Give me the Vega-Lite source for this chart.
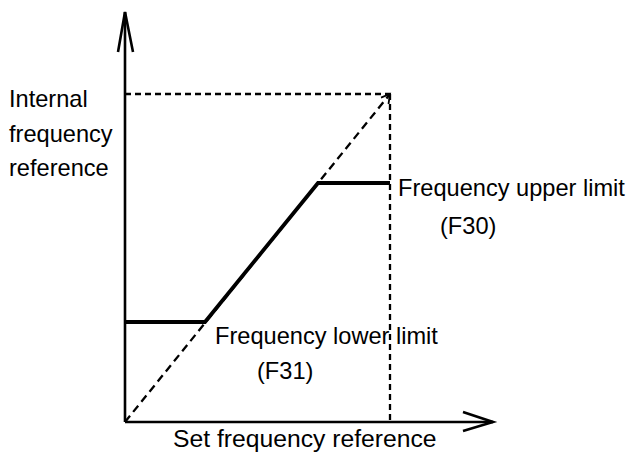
{
  "$schema": "https://vega.github.io/schema/vega-lite/v6.json",
  "width": 629,
  "height": 455,
  "autosize": "none",
  "padding": 0,
  "background": "white",
  "config": {"view": {"stroke": null}},
  "datasets": {
    "solid": [
      {"seg": "yaxis", "o": 1, "x": 0, "y": 0},
      {"seg": "yaxis", "o": 2, "x": 0, "y": 410},
      {"seg": "yarrow", "o": 1, "x": -7, "y": 370},
      {"seg": "yarrow", "o": 2, "x": 0, "y": 410},
      {"seg": "yarrow", "o": 3, "x": 8, "y": 370},
      {"seg": "xaxis", "o": 1, "x": 0, "y": 0},
      {"seg": "xaxis", "o": 2, "x": 368, "y": 0},
      {"seg": "xarrow", "o": 1, "x": 338, "y": 10},
      {"seg": "xarrow", "o": 2, "x": 368, "y": 0},
      {"seg": "xarrow", "o": 3, "x": 338, "y": -9}
    ],
    "thin": [
      {"seg": "darrow", "o": 1, "x": 256, "y": 324.4},
      {"seg": "darrow", "o": 2, "x": 265, "y": 328},
      {"seg": "darrow", "o": 3, "x": 263.5, "y": 318}
    ],
    "dashed": [
      {"seg": "top", "o": 1, "x": 0, "y": 328},
      {"seg": "top", "o": 2, "x": 265, "y": 328},
      {"seg": "vert", "o": 1, "x": 265, "y": 328},
      {"seg": "vert", "o": 2, "x": 265, "y": 0}
    ],
    "diag": [
      {"seg": "diag", "o": 1, "x": 0, "y": 0},
      {"seg": "diag", "o": 2, "x": 265, "y": 328}
    ],
    "thick": [
      {"o": 1, "x": 0, "y": 100},
      {"o": 2, "x": 80, "y": 100},
      {"o": 3, "x": 193, "y": 239},
      {"o": 4, "x": 265, "y": 239}
    ],
    "labels": [
      {"t": "Internal", "x": -116, "y": 315},
      {"t": "frequency", "x": -116, "y": 280},
      {"t": "reference", "x": -116, "y": 246},
      {"t": "Frequency upper limit", "x": 273, "y": 226},
      {"t": "(F30)", "x": 315, "y": 188},
      {"t": "Frequency lower limit", "x": 90, "y": 78},
      {"t": "(F31)", "x": 132, "y": 43}
    ],
    "xlabel": [
      {"t": "Set frequency reference", "x": 48, "y": -25}
    ]
  },
  "encoding": {
    "x": {"field": "x", "type": "quantitative", "scale": {"domain": [-125, 504], "nice": false, "zero": false}, "axis": null},
    "y": {"field": "y", "type": "quantitative", "scale": {"domain": [-33, 422], "nice": false, "zero": false}, "axis": null}
  },
  "layer": [
    {
      "data": {"name": "dashed"},
      "mark": {"type": "line", "color": "black", "strokeWidth": 2.3, "strokeDash": [6, 4], "strokeCap": "butt"},
      "encoding": {"detail": {"field": "seg"}, "order": {"field": "o"}}
    },
    {
      "data": {"name": "diag"},
      "mark": {"type": "line", "color": "black", "strokeWidth": 2.3, "strokeDash": [8, 5], "strokeCap": "butt"},
      "encoding": {"detail": {"field": "seg"}, "order": {"field": "o"}}
    },
    {
      "data": {"name": "thin"},
      "mark": {"type": "line", "color": "black", "strokeWidth": 1.8},
      "encoding": {"detail": {"field": "seg"}, "order": {"field": "o"}}
    },
    {
      "data": {"name": "solid"},
      "mark": {"type": "line", "color": "black", "strokeWidth": 2.6, "strokeJoin": "miter"},
      "encoding": {"detail": {"field": "seg"}, "order": {"field": "o"}}
    },
    {
      "data": {"name": "thick"},
      "mark": {"type": "line", "color": "black", "strokeWidth": 3.8, "strokeJoin": "miter"},
      "encoding": {"order": {"field": "o"}}
    },
    {
      "data": {"name": "labels"},
      "mark": {"type": "text", "align": "left", "baseline": "alphabetic", "font": "Liberation Sans", "fontSize": 23.6, "color": "black"},
      "encoding": {"text": {"field": "t"}}
    },
    {
      "data": {"name": "xlabel"},
      "mark": {"type": "text", "align": "left", "baseline": "alphabetic", "font": "Liberation Sans", "fontSize": 24.7, "color": "black"},
      "encoding": {"text": {"field": "t"}}
    }
  ]
}
